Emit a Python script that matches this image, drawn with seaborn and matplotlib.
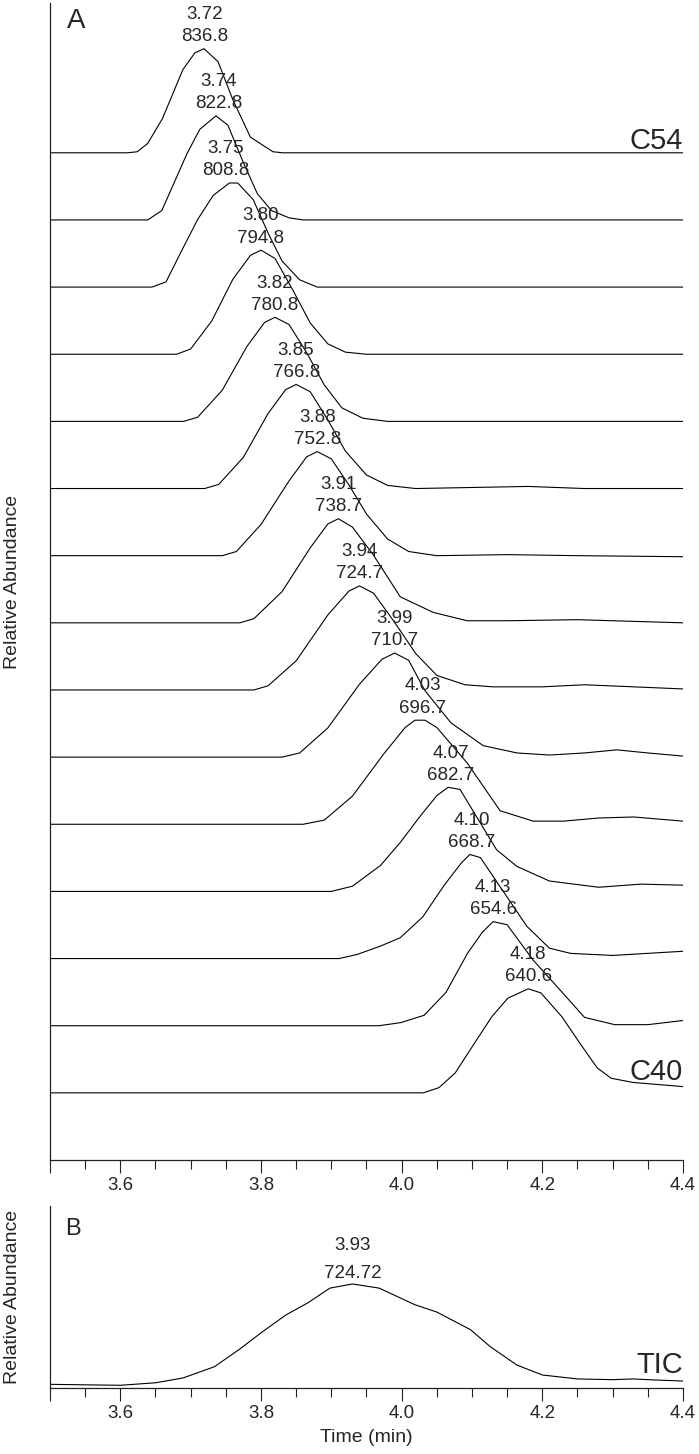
import numpy as np
import pandas as pd
import matplotlib
matplotlib.use('Agg')
import matplotlib.pyplot as plt
import seaborn as sns
from matplotlib.ticker import MultipleLocator, FixedLocator

sns.set_style('ticks')
plt.rcParams['font.family'] = ['Liberation Sans', 'DejaVu Sans']

# peak labels, top trace (C54) to bottom trace (C40)
rt_labels = ['3.72', '3.74', '3.75', '3.80', '3.82', '3.85', '3.88', '3.91',
             '3.94', '3.99', '4.03', '4.07', '4.10', '4.13', '4.18']
mz_labels = ['836.8', '822.8', '808.8', '794.8', '780.8', '766.8', '752.8', '738.7',
             '724.7', '710.7', '696.7', '682.7', '668.7', '654.6', '640.6']

# extracted ion chromatograms, time (min) and intensity relative to apex
t_c54 = [3.50, 3.610, 3.624, 3.639, 3.66, 3.689, 3.706, 3.719, 3.739, 3.760, 3.785, 3.817, 3.831, 4.40]
i_c54 = [0, 0, 0.01, 0.09, 0.33, 0.80, 0.96, 1.00, 0.875, 0.51, 0.15, 0.01, 0, 0]
t_c53 = [3.50, 3.639, 3.659, 3.695, 3.713, 3.736, 3.753, 3.775, 3.795, 3.815, 3.84, 3.86, 4.40]
i_c53 = [0, 0, 0.09, 0.64, 0.87, 1.00, 0.91, 0.55, 0.25, 0.09, 0.02, 0, 0]
t_c52 = [3.50, 3.645, 3.665, 3.688, 3.71, 3.732, 3.755, 3.767, 3.789, 3.81, 3.83, 3.855, 3.88, 4.40]
i_c52 = [0, 0, 0.05, 0.36, 0.65, 0.88, 1.00, 1.00, 0.84, 0.52, 0.25, 0.07, 0, 0]
t_c51 = [3.50, 3.68, 3.70, 3.73, 3.76, 3.785, 3.80, 3.82, 3.845, 3.87, 3.895, 3.92, 3.95, 4.40]
i_c51 = [0, 0, 0.05, 0.32, 0.72, 0.95, 1.00, 0.92, 0.62, 0.30, 0.10, 0.02, 0, 0]
t_c50 = [3.50, 3.69, 3.71, 3.745, 3.78, 3.805, 3.82, 3.84, 3.865, 3.89, 3.915, 3.945, 3.98, 4.40]
i_c50 = [0, 0, 0.04, 0.30, 0.72, 0.95, 1.00, 0.93, 0.66, 0.35, 0.13, 0.03, 0, 0]
t_c49 = [3.50, 3.72, 3.74, 3.775, 3.81, 3.835, 3.85, 3.87, 3.895, 3.92, 3.95, 3.98, 4.02, 4.10, 4.18, 4.26, 4.40]
i_c49 = [0, 0, 0.04, 0.30, 0.72, 0.95, 1.00, 0.93, 0.66, 0.36, 0.13, 0.03, 0, 0.01, 0.02, 0.0, 0.0]
t_c48 = [3.50, 3.745, 3.765, 3.80, 3.84, 3.865, 3.88, 3.90, 3.925, 3.95, 3.98, 4.01, 4.05, 4.15, 4.25, 4.40]
i_c48 = [0, 0, 0.04, 0.30, 0.72, 0.95, 1.00, 0.93, 0.68, 0.40, 0.16, 0.04, 0.0, 0.01, 0.0, -0.01]
t_c47 = [3.50, 3.77, 3.79, 3.83, 3.87, 3.895, 3.91, 3.93, 3.96, 3.998, 4.045, 4.093, 4.15, 4.25, 4.40]
i_c47 = [0, 0, 0.04, 0.30, 0.72, 0.95, 1.00, 0.92, 0.65, 0.25, 0.10, 0.02, 0.02, 0.03, 0.0]
t_c46 = [3.50, 3.79, 3.81, 3.85, 3.895, 3.925, 3.94, 3.96, 3.99, 4.02, 4.05, 4.09, 4.13, 4.20, 4.26, 4.33, 4.40]
i_c46 = [0, 0, 0.04, 0.28, 0.72, 0.95, 1.00, 0.93, 0.65, 0.35, 0.14, 0.05, 0.03, 0.03, 0.05, 0.03, 0.01]
t_c45 = [3.50, 3.83, 3.855, 3.895, 3.94, 3.972, 3.99, 4.01, 4.033, 4.07, 4.116, 4.164, 4.21, 4.26, 4.306, 4.35, 4.40]
i_c45 = [0, 0, 0.04, 0.28, 0.70, 0.94, 1.00, 0.93, 0.64, 0.33, 0.11, 0.04, 0.02, 0.04, 0.07, 0.04, 0.01]
t_c44 = [3.50, 3.86, 3.89, 3.93, 3.975, 4.005, 4.019, 4.033, 4.05, 4.093, 4.14, 4.187, 4.23, 4.28, 4.33, 4.40]
i_c44 = [0, 0, 0.04, 0.27, 0.68, 0.93, 1.00, 1.00, 0.93, 0.59, 0.13, 0.03, 0.03, 0.06, 0.07, 0.03]
t_c43 = [3.50, 3.90, 3.93, 3.97, 3.998, 4.026, 4.05, 4.066, 4.083, 4.10, 4.135, 4.164, 4.21, 4.28, 4.34, 4.40]
i_c43 = [0, 0, 0.05, 0.25, 0.47, 0.72, 0.92, 1.00, 0.98, 0.79, 0.40, 0.24, 0.10, 0.04, 0.07, 0.06]
t_c42 = [3.50, 3.911, 3.937, 3.97, 3.998, 4.03, 4.06, 4.085, 4.097, 4.112, 4.14, 4.178, 4.21, 4.24, 4.30, 4.40]
i_c42 = [0, 0, 0.04, 0.12, 0.20, 0.40, 0.70, 0.92, 1.00, 0.97, 0.69, 0.31, 0.10, 0.05, 0.03, 0.07]
t_c41 = [3.50, 3.968, 3.999, 4.032, 4.063, 4.094, 4.115, 4.13, 4.15, 4.187, 4.221, 4.26, 4.303, 4.35, 4.40]
i_c41 = [0, 0, 0.03, 0.10, 0.32, 0.70, 0.90, 1.00, 0.97, 0.63, 0.375, 0.08, 0.01, 0.01, 0.05]
t_c40 = [3.50, 4.031, 4.053, 4.076, 4.10, 4.128, 4.151, 4.18, 4.198, 4.228, 4.253, 4.278, 4.298, 4.329, 4.40]
i_c40 = [0, 0, 0.05, 0.19, 0.44, 0.73, 0.91, 1.00, 0.96, 0.73, 0.48, 0.24, 0.14, 0.10, 0.06]

# total ion chromatogram (relative abundance, %)
t_tic = [3.50, 3.60, 3.65, 3.689, 3.734, 3.77, 3.80, 3.835, 3.867, 3.898, 3.93, 3.968,
         4.019, 4.05, 4.098, 4.126, 4.164, 4.20, 4.25, 4.30, 4.33, 4.36, 4.40]
i_tic = [3.5, 2.6, 5.0, 9.6, 20.5, 37.5, 53, 70, 82, 96, 100, 96,
         80, 73, 56, 39.7, 22, 12.5, 8.7, 8.0, 8.7, 7.7, 6.7]

traces = [(t_c54, i_c54), (t_c53, i_c53), (t_c52, i_c52), (t_c51, i_c51), (t_c50, i_c50),
          (t_c49, i_c49), (t_c48, i_c48), (t_c47, i_c47), (t_c46, i_c46), (t_c45, i_c45),
          (t_c44, i_c44), (t_c43, i_c43), (t_c42, i_c42), (t_c41, i_c41), (t_c40, i_c40)]

n = len(traces)
peak_h = 1.55   # apex height in units of trace spacing

rows = []
for k, (t, inten) in enumerate(traces):
    off = n - 1 - k
    for tt, ii in zip(t, inten):
        rows.append({'trace': k, 'time': tt, 'y': off + peak_h * ii})
df = pd.DataFrame(rows)
tic_df = pd.DataFrame({'time': t_tic, 'abund': i_tic})

fig = plt.figure(figsize=(6.99, 14.54), dpi=100)
axA = fig.add_axes([0.0715, 0.2022, 0.9056, 0.7957])
axB = fig.add_axes([0.0715, 0.0454, 0.9056, 0.1252])

sns.lineplot(data=df, x='time', y='y', units='trace', estimator=None, sort=False,
             color='black', lw=0.8, ax=axA)
sns.lineplot(data=tic_df, x='time', y='abund', estimator=None, sort=False,
             color='black', lw=0.8, ax=axB)

axA.set_ylim(-1.0, 16.23)
axB.set_ylim(0, 175)

for k in range(n):
    apex = n - 1 - k + peak_h * max(traces[k][1])
    x = float(rt_labels[k])
    axA.text(x, apex + 0.51, rt_labels[k], ha='center', va='center', fontsize=13.5)
    axA.text(x, apex + 0.18, mz_labels[k], ha='center', va='center', fontsize=13.5)

axA.text(4.4, n - 1 + 0.06, 'C54', ha='right', va='baseline', fontsize=21)
axA.text(4.4, 0.19, 'C40', ha='right', va='baseline', fontsize=21)
axA.text(0.027, 0.9957, 'A', transform=axA.transAxes, ha='left', va='top', fontsize=20)

axB.text(3.93, 136.5, '3.93', ha='center', va='center', fontsize=13.5)
axB.text(3.93, 110.5, '724.72', ha='center', va='center', fontsize=13.5)
axB.text(4.4, 14.4, 'TIC', ha='right', va='baseline', fontsize=21)
axB.text(0.024, 0.934, 'B', transform=axB.transAxes, ha='left', va='top', fontsize=17)

for ax in (axA, axB):
    ax.set_xlim(3.5, 4.4)
    ax.xaxis.set_major_locator(FixedLocator([3.5, 3.6, 3.8, 4.0, 4.2, 4.4]))
    ax.set_xticklabels(['', '3.6', '3.8', '4.0', '4.2', '4.4'])
    ax.xaxis.set_minor_locator(MultipleLocator(0.05))
    ax.tick_params(axis='x', which='major', length=9.5, width=0.8, direction='out',
                   labelsize=13.5, pad=3, color='#222222')
    ax.tick_params(axis='x', which='minor', length=6.5, width=0.8, direction='out',
                   color='#222222')
    ax.set_yticks([])
    sns.despine(ax=ax)
    for side in ('left', 'bottom'):
        ax.spines[side].set_linewidth(0.9)
        ax.spines[side].set_color('#222222')
    ax.set_ylabel('Relative Abundance', fontsize=14)
    ax.yaxis.set_label_coords(-0.046, 0.5)

axA.set_xlabel('')
axB.set_xlabel('Time (min)', fontsize=14, labelpad=5)

fig.savefig('out.png', dpi=100)
